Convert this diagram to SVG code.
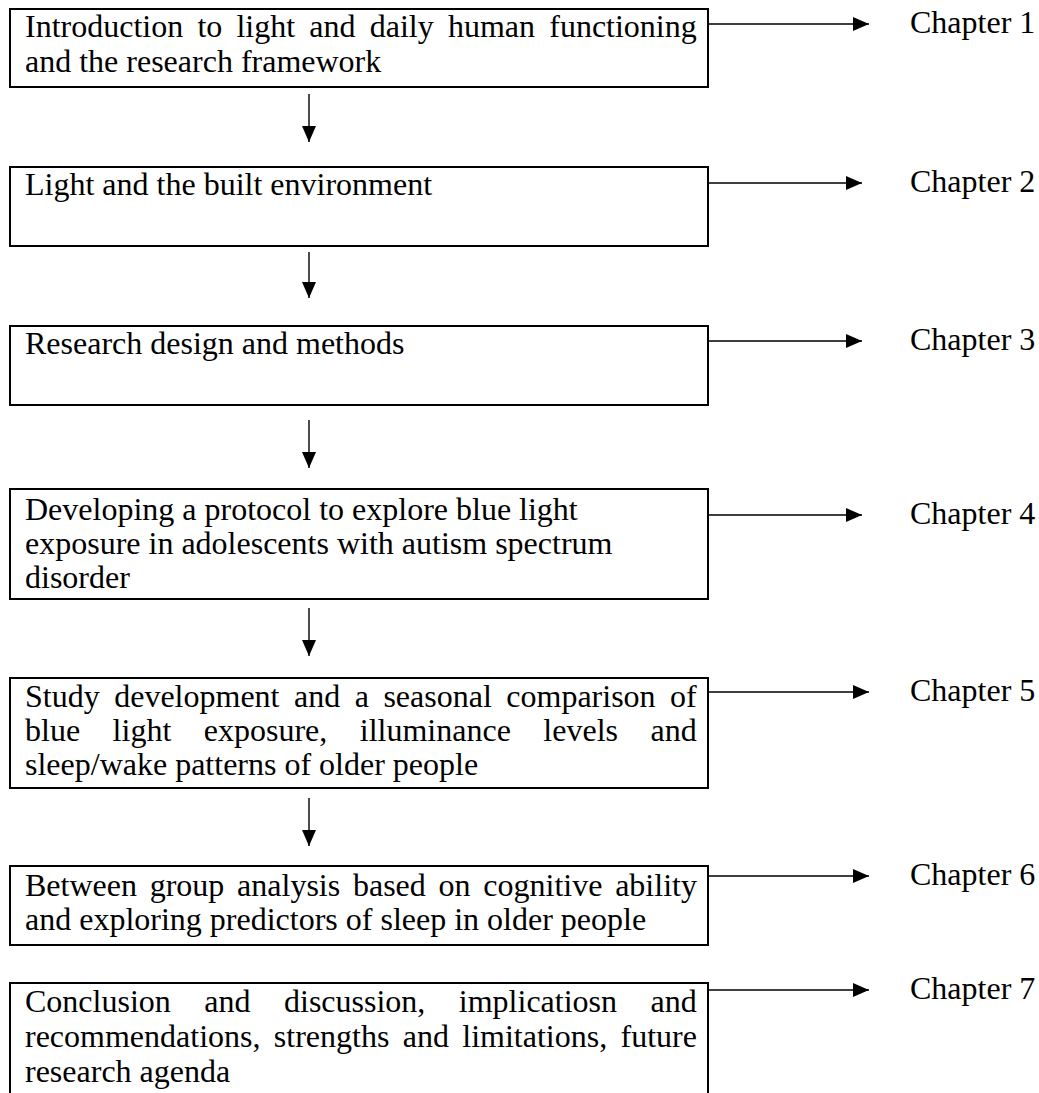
<svg xmlns="http://www.w3.org/2000/svg" width="1039" height="1093" viewBox="0 0 1039 1093">
<defs>
<marker id="ah" markerUnits="userSpaceOnUse" markerWidth="16" markerHeight="14" refX="16" refY="7" orient="auto"><path d="M0,0 L16,7 L0,14 Z" fill="#000"/></marker>
</defs>
<style>
.box{fill:#fff;stroke:#000;stroke-width:2}
.t{font-family:"Liberation Serif","Times New Roman",serif;font-size:32px;fill:#000}
.c{stroke:#000;stroke-width:1.4;fill:none}
</style>
<rect width="1039" height="1093" fill="#fff"/>
<g id="connectors">
<path class="c" d="M309,94 V142" marker-end="url(#ah)"/>
<path class="c" d="M309,252 V298" marker-end="url(#ah)"/>
<path class="c" d="M309,420 V468" marker-end="url(#ah)"/>
<path class="c" d="M309,608 V656" marker-end="url(#ah)"/>
<path class="c" d="M309,798 V846" marker-end="url(#ah)"/>
<path class="c" d="M698,20 V27 M698,24 H869" marker-end="url(#ah)"/>
<path class="c" d="M680,179 V186 M680,183 H862" marker-end="url(#ah)"/>
<path class="c" d="M690,337 V344 M690,341 H862" marker-end="url(#ah)"/>
<path class="c" d="M692,511 V518 M692,515 H862" marker-end="url(#ah)"/>
<path class="c" d="M698,688 V695 M698,692 H869" marker-end="url(#ah)"/>
<path class="c" d="M698,872 V879 M698,876 H869" marker-end="url(#ah)"/>
<path class="c" d="M698,986 V993 M698,990 H869" marker-end="url(#ah)"/>
</g>
<g id="node1">
<rect class="box" x="10" y="9" width="698" height="78"/>
<text class="t" x="25" y="37" style="word-spacing:6.2px">Introduction to light and daily human functioning</text>
<text class="t" x="25" y="72">and the research framework</text>
</g>
<g id="node2">
<rect class="box" x="10" y="167" width="698" height="79"/>
<text class="t" x="25" y="195">Light and the built environment</text>
</g>
<g id="node3">
<rect class="box" x="10" y="326" width="698" height="79"/>
<text class="t" x="25" y="354">Research design and methods</text>
</g>
<g id="node4">
<rect class="box" x="10" y="489" width="698" height="110"/>
<text class="t" x="25" y="520">Developing a protocol to explore blue light</text>
<text class="t" x="25" y="554">exposure in adolescents with autism spectrum</text>
<text class="t" x="25" y="588">disorder</text>
</g>
<g id="node5">
<rect class="box" x="10" y="678" width="698" height="110"/>
<text class="t" x="25" y="707" style="word-spacing:6.5px">Study development and a seasonal comparison of</text>
<text class="t" x="25" y="741" style="word-spacing:24.5px">blue light exposure, illuminance levels and</text>
<text class="t" x="25" y="775">sleep/wake patterns of older people</text>
</g>
<g id="node6">
<rect class="box" x="10" y="866" width="698" height="79"/>
<text class="t" x="25" y="896" style="word-spacing:4.75px">Between group analysis based on cognitive ability</text>
<text class="t" x="25" y="930">and exploring predictors of sleep in older people</text>
</g>
<g id="node7">
<rect class="box" x="10" y="983" width="698" height="130"/>
<text class="t" x="25" y="1012" style="word-spacing:25.5px">Conclusion and discussion, implicatiosn and</text>
<text class="t" x="25" y="1047" style="word-spacing:5.35px">recommendations, strengths and limitations, future</text>
<text class="t" x="25" y="1082">research agenda</text>
</g>
<g id="chapters">
<text class="t" x="910" y="33">Chapter 1</text>
<text class="t" x="910" y="192">Chapter 2</text>
<text class="t" x="910" y="350">Chapter 3</text>
<text class="t" x="910" y="524">Chapter 4</text>
<text class="t" x="910" y="701">Chapter 5</text>
<text class="t" x="910" y="885">Chapter 6</text>
<text class="t" x="910" y="999">Chapter 7</text>
</g>
</svg>
